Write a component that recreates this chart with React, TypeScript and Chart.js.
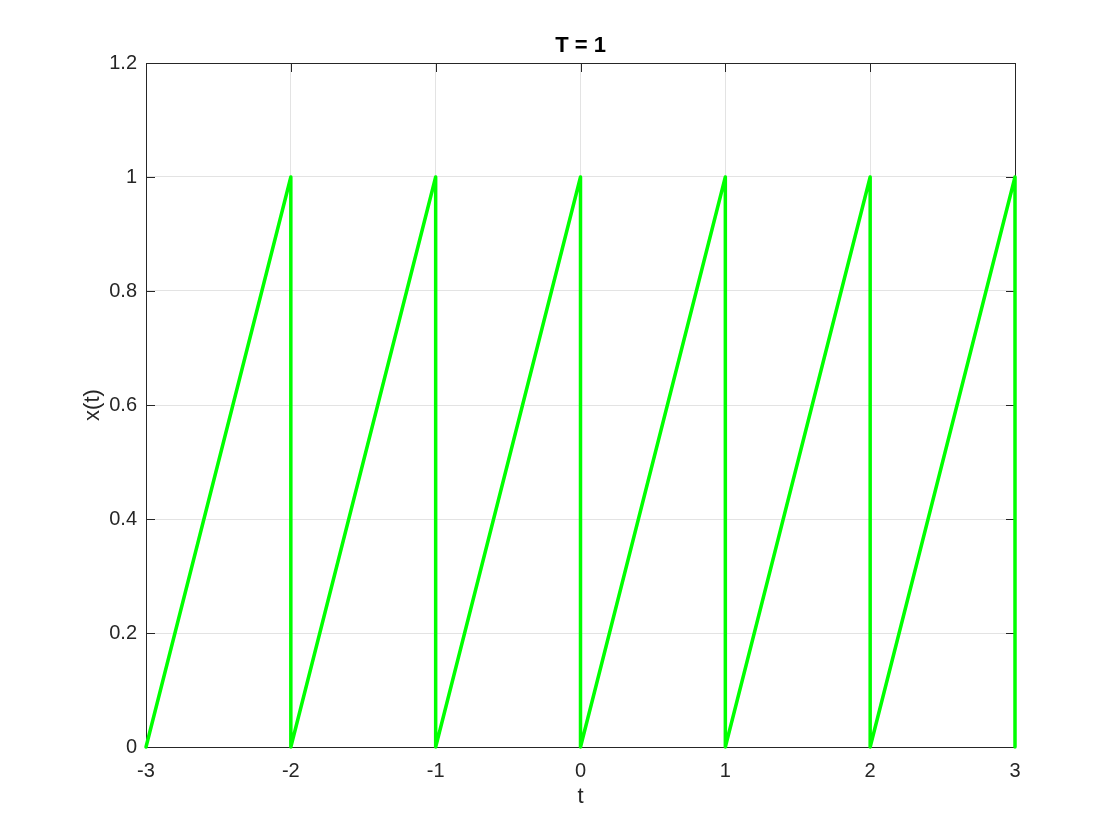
import React, { useEffect, useRef } from "react";
import { Chart, registerables } from "chart.js";

Chart.register(...registerables);

const tValues = [-3, -2, -2, -1, -1, 0, 0, 1, 1, 2, 2, 3, 3];
const xValues = [0, 1, 0, 1, 0, 1, 0, 1, 0, 1, 0, 1, 0];
const xTicks = [-3, -2, -1, 0, 1, 2, 3];
const yTicks = [0, 0.2, 0.4, 0.6, 0.8, 1, 1.2];
const titleText = "T = 1";

const AXIS_COLOR = "#262626";
const FONT = "'Liberation Sans', Arial, Helvetica, sans-serif";

const boxPlugin = {
  id: "matlabBox",
  beforeDatasetsDraw(chart: any) {
    const { ctx, chartArea } = chart;
    const { left, right, top, bottom } = chartArea;
    const xs = chart.scales.x;
    const ys = chart.scales.y;
    const len = 9;
    ctx.save();
    ctx.strokeStyle = AXIS_COLOR;
    ctx.lineWidth = 1;
    ctx.beginPath();
    ctx.rect(Math.round(left) + 0.5, Math.round(top) + 0.5, Math.round(right - left), Math.round(bottom - top));
    ctx.stroke();
    ctx.beginPath();
    for (const v of xTicks) {
      const px = Math.round(xs.getPixelForValue(v)) + 0.5;
      ctx.moveTo(px, bottom);
      ctx.lineTo(px, bottom - len);
      ctx.moveTo(px, top);
      ctx.lineTo(px, top + len);
    }
    for (const v of yTicks) {
      const py = Math.round(ys.getPixelForValue(v)) + 0.5;
      ctx.moveTo(left, py);
      ctx.lineTo(left + len, py);
      ctx.moveTo(right, py);
      ctx.lineTo(right - len, py);
    }
    ctx.stroke();
    ctx.restore();
  },
  afterDraw(chart: any) {
    const { ctx, chartArea } = chart;
    ctx.save();
    ctx.fillStyle = "#000000";
    ctx.font = "bold 22px " + FONT;
    ctx.textAlign = "center";
    ctx.textBaseline = "middle";
    ctx.fillText(titleText, (chartArea.left + chartArea.right) / 2, 46);
    ctx.restore();
  },
};

export default function App() {
  const ref = useRef<HTMLCanvasElement | null>(null);
  useEffect(() => {
    if (!ref.current) return;
    const points = tValues.map((t, i) => ({ x: t, y: xValues[i] }));
    const chart = new Chart(ref.current, {
      type: "scatter",
      data: {
        datasets: [
          {
            data: points,
            showLine: true,
            borderColor: "#00ff00",
            backgroundColor: "#00ff00",
            borderWidth: 3.5,
            borderJoinStyle: "round",
            borderCapStyle: "round",
            pointRadius: 0,
            pointHoverRadius: 0,
            tension: 0,
            clip: false as any,
          },
        ],
      },
      options: {
        responsive: false,
        animation: false,
        devicePixelRatio: 1,
        layout: { padding: { left: 80, right: 105, top: 63, bottom: 30 } },
        plugins: {
          legend: { display: false },
          tooltip: { enabled: false },
          title: { display: false },
        },
        scales: {
          x: {
            type: "linear",
            min: -3,
            max: 3,
            afterBuildTicks: (s: any) => {
              s.ticks = xTicks.map((v) => ({ value: v }));
            },
            afterFit: (s: any) => {
              s.height = 63;
            },
            ticks: {
              color: AXIS_COLOR,
              font: { family: FONT, size: 20 },
              padding: 12,
              maxRotation: 0,
              callback: (v: any) => String(v),
            },
            grid: { color: "#e3e3e3", drawTicks: false, lineWidth: 1 },
            border: { display: false },
            title: {
              display: true,
              text: "t",
              color: AXIS_COLOR,
              font: { family: FONT, size: 22 },
              padding: 0,
            },
          },
          y: {
            type: "linear",
            min: 0,
            max: 1.2,
            afterBuildTicks: (s: any) => {
              s.ticks = yTicks.map((v) => ({ value: v }));
            },
            afterFit: (s: any) => {
              s.width = 66;
            },
            ticks: {
              color: AXIS_COLOR,
              font: { family: FONT, size: 20 },
              padding: 9,
              callback: (v: any) => String(Math.round(v * 10) / 10),
            },
            grid: { color: "#e3e3e3", drawTicks: false, lineWidth: 1 },
            border: { display: false },
            title: {
              display: true,
              text: "x(t)",
              color: AXIS_COLOR,
              font: { family: FONT, size: 22 },
              padding: 0,
            },
          },
        },
      },
      plugins: [boxPlugin],
    });
    return () => chart.destroy();
  }, []);
  return (
    <div style={{ position: "absolute", left: 0, top: 0, width: 1120, height: 840, background: "#ffffff" }}>
      <canvas ref={ref} width={1120} height={840} style={{ display: "block", width: 1120, height: 840 }} />
    </div>
  );
}
